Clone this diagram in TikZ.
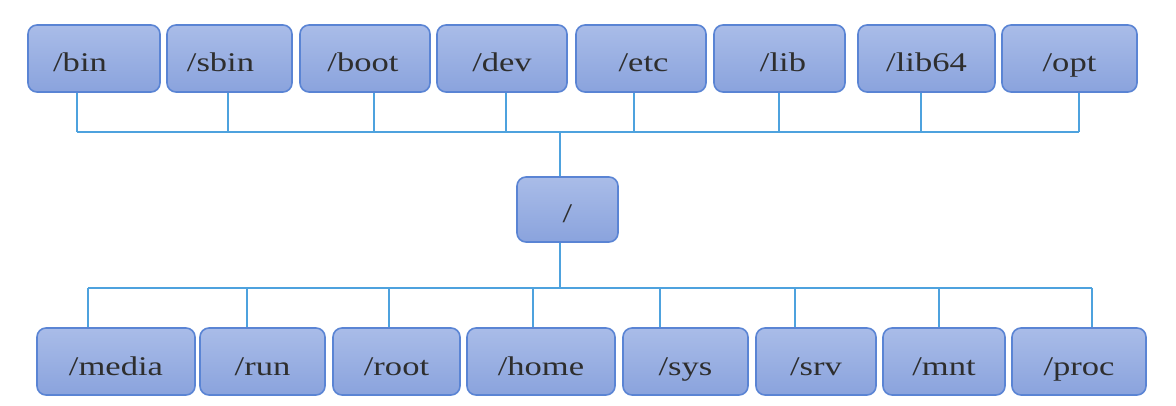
\documentclass[tikz,border=0pt]{standalone}
\usepackage{fontspec}
\setmainfont{Liberation Serif}
\newfontfamily\boxfont[FakeStretch=1.28]{Liberation Serif}
\definecolor{boxtop}{HTML}{A9BCE8}
\definecolor{boxbot}{HTML}{8AA3DD}
\definecolor{boxline}{HTML}{5A84D4}
\definecolor{wire}{HTML}{4EA2DE}
\definecolor{txt}{HTML}{2E2E2E}
\begin{document}
\begin{tikzpicture}[x=1pt,y=-1pt,
  dirbox/.style={draw=boxline, line width=1.6pt, rounded corners=9pt,
    top color=boxtop, bottom color=boxbot, inner sep=0pt,
    text height=30pt, text depth=3pt,
    font=\boxfont\fontsize{27}{29}\selectfont, text=txt},
  wireline/.style={draw=wire, line width=2.6pt}]
\useasboundingbox (0,0) rectangle (1176,406);
% top row
\foreach \n/\l/\r/\t in {bin/28/160/{/bin\kern28pt}, sbin/167/292/{/sbin\kern18pt}, boot/300/430/{/boot\kern4pt},
  dev/437/567/{/dev}, etc/576/706/{\kern5pt/etc}, lib/714/845/{\kern7pt/lib},
  libsf/858/995/{/lib64}, opt/1002/1137/{/opt}}{
  \node[dirbox, minimum width={\r-\l}, minimum height=67] (\n) at ({(\l+\r)/2},58.5) {\t};
}
% root
\node[dirbox, minimum width=101, minimum height=65] (root) at (567.5,209.5) {/};
% bottom row
\foreach \n/\l/\r/\t in {media/37/195/{/media}, run/200/325/{/run}, rootd/333/460/{/root},
  home/467/615/{/home}, sys/623/748/{/sys}, srv/756/876/{/srv},
  mnt/883/1005/{/mnt}, proc/1012/1146/{/proc}}{
  \node[dirbox, minimum width={\r-\l}, minimum height=67] (\n) at ({(\l+\r)/2},361.5) {\t};
}
% top bus
\foreach \n/\x in {bin/77, sbin/228, boot/374, dev/506, etc/634, lib/779, libsf/921, opt/1079}{
  \coordinate (t\n) at (\x,132);
  \draw[wireline] (t\n |- \n.south) -- (t\n);
}
\draw[wireline] (tbin) -- (topt);
\coordinate (troot) at (560,132);
\draw[wireline] (troot) -- (troot |- root.north);
% bottom bus
\foreach \n/\x in {media/88, run/247, rootd/389, home/533, sys/660, srv/795, mnt/939, proc/1092}{
  \coordinate (b\n) at (\x,288);
  \draw[wireline] (b\n) -- (b\n |- \n.north);
}
\draw[wireline] (bmedia) -- (bproc);
\coordinate (broot) at (560,288);
\draw[wireline] (broot |- root.south) -- (broot);
\end{tikzpicture}
\end{document}
